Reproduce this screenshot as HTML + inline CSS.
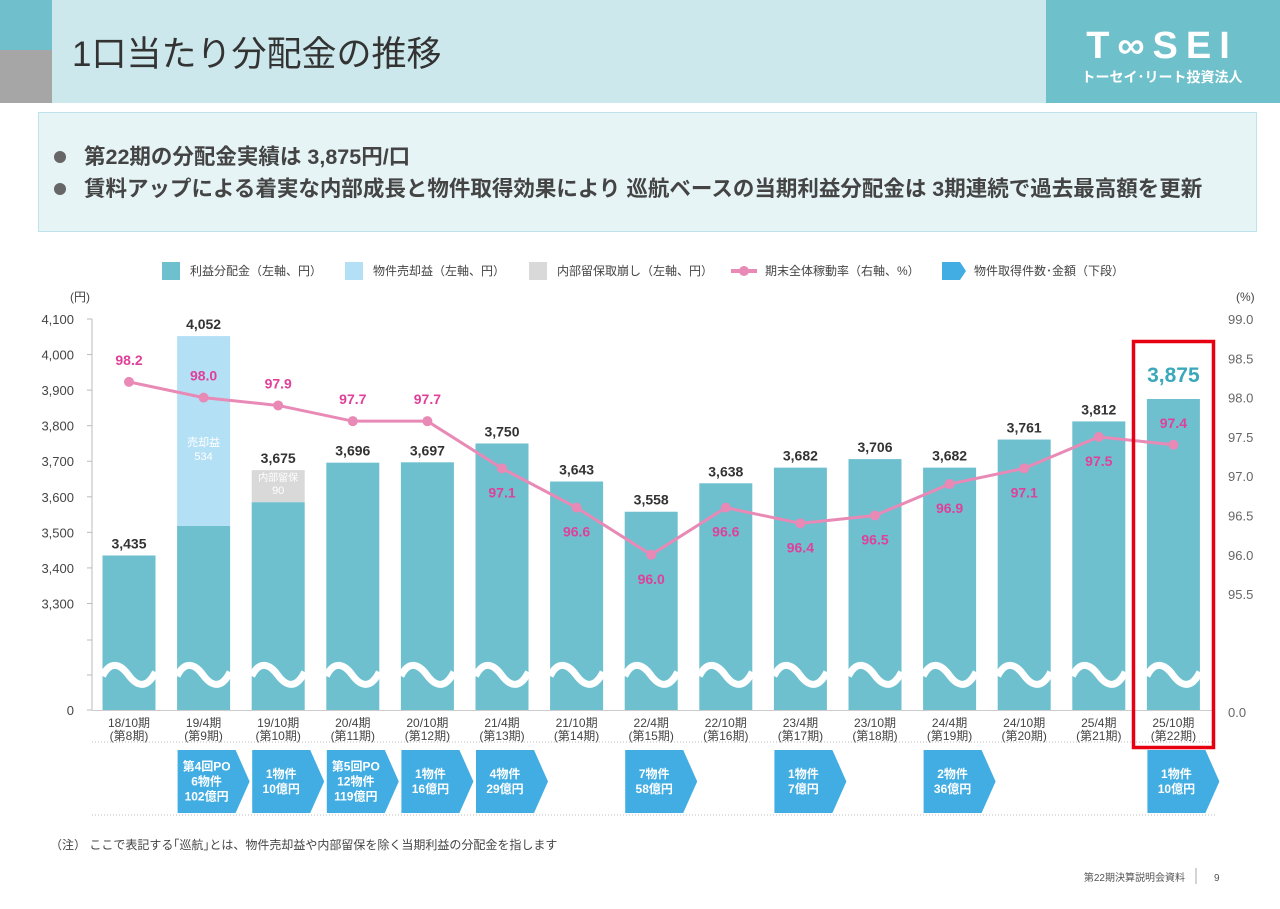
<!DOCTYPE html>
<html><head><meta charset="utf-8">
<style>
body{margin:0;width:1280px;height:904px;background:#fff;overflow:hidden;font-family:"Liberation Sans","Noto Sans CJK JP",sans-serif;}
svg text{font-family:"Liberation Sans","Noto Sans CJK JP",sans-serif;}
</style></head>
<body>
<svg id="chart" width="1280" height="904" viewBox="0 0 1280 904">
  <rect x="0" y="0" width="1046" height="103" fill="#cce8ec"/>
  <rect x="0" y="0" width="52" height="50" fill="#6fc0cc"/>
  <rect x="0" y="50" width="52" height="53" fill="#a6a6a6"/>
  <text x="72" y="66" font-size="35" fill="#333">1口当たり分配金の推移</text>
  <g>
    <rect x="1046" y="0" width="234" height="103" fill="#6ec0cb"/>
    <text x="1162" y="58" font-size="38" font-weight="bold" fill="#fff" text-anchor="middle" letter-spacing="8">T∞SEI</text>
    <text x="1162" y="82" font-size="14" font-weight="bold" fill="#fff" text-anchor="middle">トーセイ･リート投資法人</text>
  </g>
  <g>
    <rect x="38.5" y="112.5" width="1218" height="119" fill="#e6f4f6" stroke="#bfe3ea"/>
    <circle cx="60" cy="157" r="6" fill="#666"/>
    <text x="84" y="164" font-size="21.5" font-weight="bold" fill="#444">第22期の分配金実績は 3,875円/口</text>
    <circle cx="60" cy="189" r="6" fill="#666"/>
    <text x="84" y="196" font-size="21.5" font-weight="bold" fill="#444">賃料アップによる着実な内部成長と物件取得効果により 巡航ベースの当期利益分配金は 3期連続で過去最高額を更新</text>
  </g>
  <g font-size="12" fill="#444">
    <rect x="162" y="262" width="18" height="18" fill="#6ec0cf"/><text x="190" y="275">利益分配金（左軸、円）</text>
    <rect x="345" y="262" width="18" height="18" fill="#b4e0f5"/><text x="373" y="275">物件売却益（左軸、円）</text>
    <rect x="529" y="262" width="18" height="18" fill="#d9d9d9"/><text x="557" y="275">内部留保取崩し（左軸、円）</text>
    <line x1="731" y1="271" x2="757" y2="271" stroke="#e889b6" stroke-width="4"/><circle cx="744" cy="271" r="5" fill="#e889b6"/>
    <text x="765" y="275">期末全体稼動率（右軸、%）</text>
    <path d="M942 262 H960 L966 271 L960 280 H942 Z" fill="#41ade3"/><text x="974" y="275">物件取得件数･金額（下段）</text>
  </g>
  <text x="70" y="301" font-size="12" fill="#444">(円)</text>
  <text x="1236" y="301" font-size="12" fill="#444">(%)</text>
  <g id="axes"></g>
  <g id="bars"></g>
  <g id="line"></g>
  <g id="acq"></g>
  <rect x="1133.5" y="341.5" width="80" height="406" fill="none" stroke="#e60012" stroke-width="3.5"/>
  <text x="50" y="849" font-size="12" fill="#444">（注）  ここで表記する｢巡航｣とは、物件売却益や内部留保を除く当期利益の分配金を指します</text>
  <text x="1185" y="881" font-size="10" fill="#555" text-anchor="end">第22期決算説明会資料</text>
  <line x1="1196" y1="868" x2="1196" y2="884" stroke="#aaa"/>
  <text x="1214" y="881" font-size="10" fill="#555">9</text>
</svg>
<script>
const categories=["18/10期","19/4期","19/10期","20/4期","20/10期","21/4期","21/10期","22/4期","22/10期","23/4期","23/10期","24/4期","24/10期","25/4期","25/10期"];
const periods=["(第8期)","(第9期)","(第10期)","(第11期)","(第12期)","(第13期)","(第14期)","(第15期)","(第16期)","(第17期)","(第18期)","(第19期)","(第20期)","(第21期)","(第22期)"];
const totals=[3435,4052,3675,3696,3697,3750,3643,3558,3638,3682,3706,3682,3761,3812,3875];
const saleGain=[0,534,0,0,0,0,0,0,0,0,0,0,0,0,0];
const retained=[0,0,90,0,0,0,0,0,0,0,0,0,0,0,0];
const occupancy=[98.2,98.0,97.9,97.7,97.7,97.1,96.6,96.0,96.6,96.4,96.5,96.9,97.1,97.5,97.4];
const occLabelSide=["a","a","a","a","a","b","b","b","b","b","b","b","b","b","a"];
const leftTicks=[4100,4000,3900,3800,3700,3600,3500,3400,3300];
const rightTicks=[99.0,98.5,98.0,97.5,97.0,96.5,96.0,95.5];
const acqIdx=[1,2,3,4,5,7,9,11,14];
const acqText=[["第4回PO","6物件","102億円"],["1物件","10億円"],["第5回PO","12物件","119億円"],["1物件","16億円"],["4物件","29億円"],["7物件","58億円"],["1物件","7億円"],["2物件","36億円"],["1物件","10億円"]];

const NS="http://www.w3.org/2000/svg";
const X0=92,STEP=74.6,BW=53,BASE=710;
const xc=i=>X0+37+i*STEP;
const yL=v=>319+(4100-v)*0.3556;
const yR=r=>319+(99-r)*78.6;
function mk(tag,attrs,parent,txt){const e=document.createElementNS(NS,tag);for(const k in attrs)e.setAttribute(k,attrs[k]);if(txt!==undefined)e.textContent=txt;parent.appendChild(e);return e;}
const fmt=v=>v.toLocaleString("en-US");

const axes=document.getElementById("axes");
let e=mk("line",{x1:92,y1:319,x2:92,y2:710,stroke:"#bbb"},axes);


e=mk("line",{x1:92,y1:710.5,x2:1215,y2:710.5,stroke:"#ccc"},axes);


leftTicks.forEach(t=>{const y=yL(t);
 mk("line",{x1:87,y1:y,x2:92,y2:y,stroke:"#bbb"},axes);
 e=mk("text",{x:74,y:y+5,"font-size":13,fill:"#444","text-anchor":"end"},axes,fmt(t));
 
 });
[640,675,710].forEach(y=>mk("line",{x1:87,y1:y,x2:92,y2:y,stroke:"#bbb"},axes));
e=mk("text",{x:74,y:715,"font-size":13,fill:"#444","text-anchor":"end"},axes,"0");


rightTicks.forEach(t=>{e=mk("text",{x:1228,y:yR(t)+5,"font-size":13,fill:"#666"},axes,t.toFixed(1));
 
 });
e=mk("text",{x:1228,y:717,"font-size":13,fill:"#666"},axes,"0.0");


mk("line",{x1:92,y1:742,x2:1215,y2:742,stroke:"#bbb","stroke-dasharray":"1 2"},axes);
mk("line",{x1:92,y1:815,x2:1215,y2:815,stroke:"#bbb","stroke-dasharray":"1 2"},axes);

const bars=document.getElementById("bars");
totals.forEach((v,i)=>{const x=xc(i)-BW/2;const base=v-saleGain[i]-retained[i];
 e=mk("rect",{x:x,y:yL(base),width:BW,height:BASE-yL(base),fill:"#6ec0cf"},bars);
 
 
 if(saleGain[i]>0){e=mk("rect",{x:x,y:yL(v),width:BW,height:yL(base)-yL(v),fill:"#b4e0f5"},bars);
  
  
  const my=(yL(v)+yL(base))/2+45;
  mk("text",{x:xc(i),y:my-30,"font-size":11,fill:"#fff","text-anchor":"middle"},bars,"売却益");
  mk("text",{x:xc(i),y:my-16,"font-size":11,fill:"#fff","text-anchor":"middle"},bars,fmt(saleGain[i]));}
 if(retained[i]>0){e=mk("rect",{x:x,y:yL(v),width:BW,height:yL(base)-yL(v),fill:"#d9d9d9"},bars);
  
  
  mk("text",{x:xc(i),y:yL(v)+11,"font-size":10,fill:"#fff","text-anchor":"middle"},bars,"内部留保");
  mk("text",{x:xc(i),y:yL(v)+24,"font-size":11,fill:"#fff","text-anchor":"middle"},bars,fmt(retained[i]));}
 mk("path",{d:`M${x} 676 C${x+8} 660,${x+18} 664,${x+26} 675 S${x+44} 690,${x+BW} 672`,stroke:"#fff","stroke-width":7,fill:"none"},bars);
 const last=i===totals.length-1;
 e=mk("text",{x:xc(i),y:last?yL(v)-17:yL(v)-7,"font-size":last?21:14,"font-weight":"bold",fill:last?"#3aa8ba":"#333","text-anchor":"middle"},bars,fmt(v));
 
 
 mk("text",{x:xc(i),y:727,"font-size":12,fill:"#444","text-anchor":"middle"},bars,categories[i]);
 mk("text",{x:xc(i),y:740,"font-size":12,fill:"#444","text-anchor":"middle"},bars,periods[i]);
});

const lg=document.getElementById("line");
e=mk("polyline",{points:occupancy.map((r,i)=>xc(i)+","+yR(r)).join(" "),fill:"none",stroke:"#e889b6","stroke-width":3},lg);


occupancy.forEach((r,i)=>{e=mk("circle",{cx:xc(i),cy:yR(r),r:5,fill:"#e889b6"},lg);
 
 
 e=mk("text",{x:xc(i),y:occLabelSide[i]==="a"?yR(r)-17:yR(r)+29,"font-size":14,"font-weight":"bold",fill:"#e0409a","text-anchor":"middle"},lg,r.toFixed(1));
 
 });

const ag=document.getElementById("acq");
acqIdx.forEach((idx,k)=>{const l=xc(idx)-26,r=xc(idx)+32,t=750,b=813;
 e=mk("path",{d:`M${l} ${t} H${r} L${r+14} ${(t+b)/2} L${r} ${b} H${l} Z`,fill:"#41ade3"},ag);
 
 
 const lines=acqText[k];const cy=(t+b)/2+4-(lines.length-1)*7.5;
 lines.forEach((s,j)=>mk("text",{x:xc(idx)+3,y:cy+j*15,"font-size":12,"font-weight":"bold",fill:"#fff","text-anchor":"middle"},ag,s));});
</script>
</body></html>
